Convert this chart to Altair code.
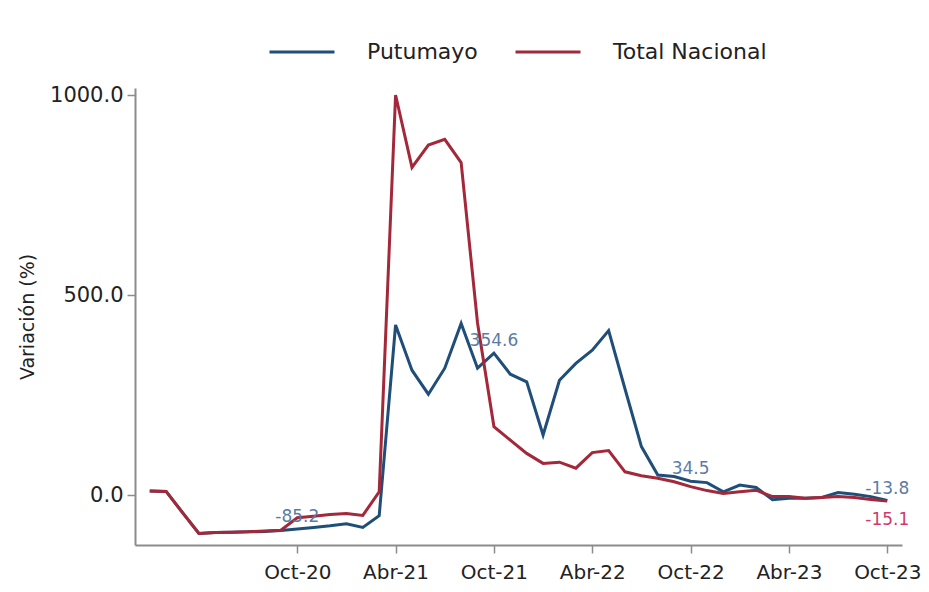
import altair as alt
import pandas as pd

# Monthly values, Jan-2020 .. Oct-2023 (46 months)
putumayo = [10, 9, -44, -96, -94, -93, -92, -91, -89, -85.2,
            -81, -77, -72, -81, -52, 425, 312, 252, 317, 429,
            317, 354.6, 302, 283, 150, 287, 329, 362, 411, 265,
            121, 50, 46, 34.5, 31, 8, 25, 19, -12, -8,
            -8, -6, 6, 2, -4, -13.8]
total_nacional = [10, 9, -44, -96, -94, -93, -92, -90, -88, -57,
                  -53, -49, -46, -51, 8, 1000, 819, 875, 889, 831,
                  430, 171, 137, 104, 79, 82, 67, 106, 111, 58,
                  48, 42, 33, 21, 11, 4, 8, 12, -4, -4,
                  -8, -6, -4, -6, -11, -15.1]

series_names = ["Putumayo", "Total Nacional"]
line_colors = ["#1f4e79", "#a3283a"]
label_colors = ["#5b7ba6", "#d2386c"]

tick_pos = [9, 15, 21, 27, 33, 39, 45]
tick_labels = ["Oct-20", "Abr-21", "Oct-21", "Abr-22", "Oct-22", "Abr-23", "Oct-23"]
y_ticks = [0, 500, 1000]

labels_above_idx = [9, 21, 33, 45]   # Putumayo labels
labels_below_idx = [45]              # Total Nacional label

rows = []
for i, v in enumerate(putumayo):
    rows.append({"t": i, "v": v, "serie": "Putumayo"})
for i, v in enumerate(total_nacional):
    rows.append({"t": i, "v": v, "serie": "Total Nacional"})
df = pd.DataFrame(rows)

df_above = pd.DataFrame([{"t": i, "v": putumayo[i], "serie": "Putumayo"} for i in labels_above_idx])
df_below = pd.DataFrame([{"t": i, "v": total_nacional[i], "serie": "Total Nacional"} for i in labels_below_idx])

label_expr = ("[" + ",".join('"%s"' % s for s in tick_labels) + "][indexof(["
              + ",".join(str(p) for p in tick_pos) + "], datum.value)]")

FONT = "DejaVu Sans"

x_enc = alt.X("t:Q",
              scale=alt.Scale(domain=[-0.9, 45.9], nice=False, zero=False),
              axis=alt.Axis(values=tick_pos, labelExpr=label_expr, title=None,
                            grid=False, labelPadding=9, labelFontSize=20))
y_enc = alt.Y("v:Q",
              scale=alt.Scale(domain=[-125, 1017.5], nice=False, zero=False),
              axis=alt.Axis(values=y_ticks, format=".1f", title="Variación (%)",
                            grid=False, labelPadding=4, titlePadding=12,
                            titleFont=FONT, titleFontSize=19, titleFontWeight="normal",
                            titleColor="#222222"))

lines = alt.Chart(df).mark_line(strokeWidth=3).encode(
    x=x_enc, y=y_enc,
    color=alt.Color("serie:N",
                    scale=alt.Scale(domain=series_names, range=line_colors),
                    legend=alt.Legend(title=None, orient="none", legendX=133, legendY=-70,
                                      direction="horizontal", symbolType="stroke",
                                      symbolSize=4225, symbolStrokeWidth=3,
                                      labelFont=FONT, labelFontSize=22, labelColor="#222222",
                                      labelOffset=31, columnPadding=31, labelLimit=400,
                                      padding=0)),
)

txt_color = alt.Color("serie:N", scale=alt.Scale(domain=series_names, range=label_colors),
                      legend=None)

lab_expr = "replace(format(datum.v, '.1f'), '\u2212', '-')"

above = alt.Chart(df_above).transform_calculate(lab=lab_expr).mark_text(
    font=FONT, fontSize=17, baseline="alphabetic", align="center", dy=-7).encode(
    x="t:Q", y="v:Q", text="lab:N", color=txt_color)
below = alt.Chart(df_below).transform_calculate(lab=lab_expr).mark_text(
    font=FONT, fontSize=17, baseline="alphabetic", align="center", dy=24).encode(
    x="t:Q", y="v:Q", text="lab:N", color=txt_color)

chart = alt.layer(lines, above, below).resolve_scale(color="independent").properties(
    width=767, height=457,
    autosize=alt.AutoSizeParams(type="none"),
    padding={"left": 127, "top": 80, "right": 19, "bottom": 39},
    background="white",
).configure_view(stroke=None).configure_axis(
    domainColor="#8c8c8c", domainWidth=2, tickColor="#8c8c8c", tickWidth=1.5,
    tickSize=8, labelColor="#222222", labelFont=FONT, labelFontSize=21,
)

chart.save("out.html", embed_options={"renderer": "svg", "actions": False})
